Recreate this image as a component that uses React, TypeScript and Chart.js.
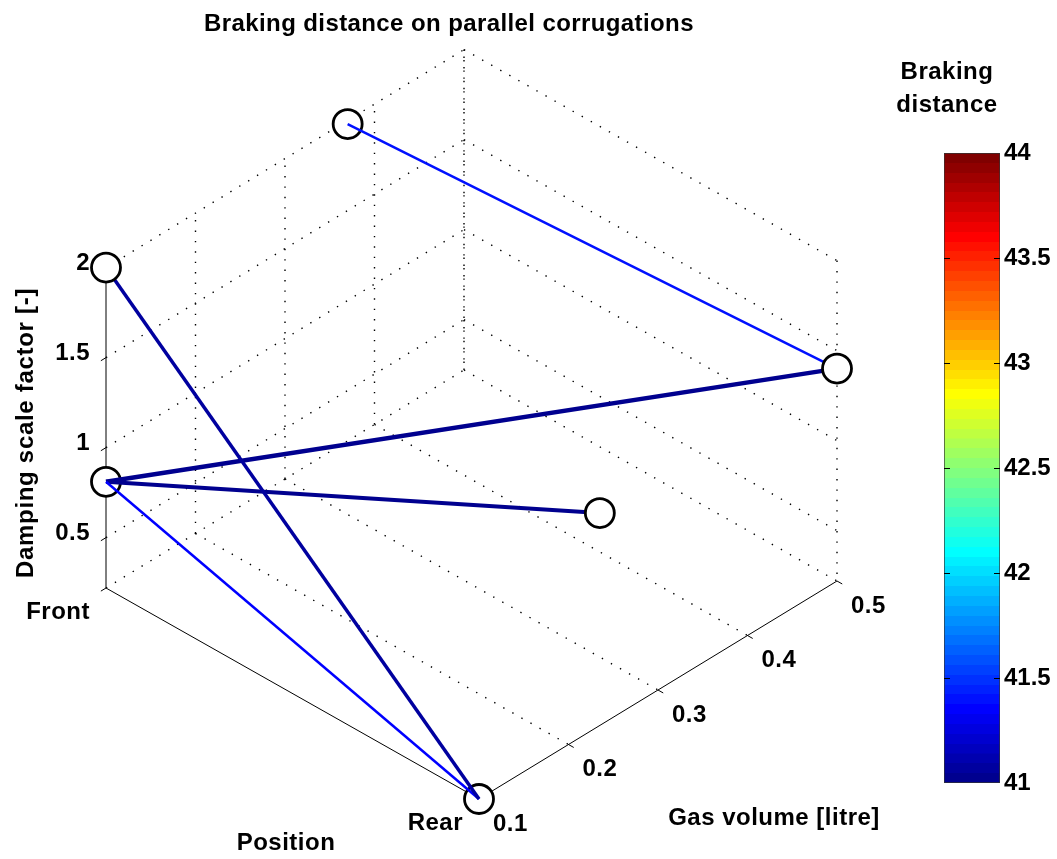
import { useEffect, useRef } from 'react';
import { Chart, registerables } from 'chart.js';

Chart.register(...registerables);

// ---- axes ----
const POSITION_LABELS = ['Front', 'Rear'];
const POSITION_VALUES = [0, 1];
const GAS_TICKS = [0.1, 0.2, 0.3, 0.4, 0.5];
const GAS_RANGE = [0.1, 0.5];
const DAMPING_TICKS = [0.5, 1, 1.5, 2];
const DAMPING_RANGE = [0.22, 2];
const BRAKING_TICKS = [41, 41.5, 42, 42.5, 43, 43.5, 44];
const BRAKING_TICK_LABELS = ['41', '41.5', '42', '42.5', '43', '43.5', '44'];
const BRAKING_RANGE = [41, 44];

// ---- test configurations (position 0 = Front, 1 = Rear) ----
const configPosition = [0, 0, 1, 0, 1, 1];
const configGas = [0.1, 0.1, 0.1, 0.37, 0.5, 0.235];
const configDamping = [2, 0.81, 0.22, 1.98, 1.4, 1.4];
// markers painted under / over the connecting lines
const markersUnder = [1, 2, 3];
const markersOver = [0, 4, 5];

// ---- connections between configurations, coloured by braking distance ----
const linkFrom = [0, 1, 1, 1, 3];
const linkTo = [2, 2, 4, 5, 4];
const linkBraking = [41.06, 41.35, 41.01, 41.03, 41.42];
const linkWidth = [3.5, 2.5, 4.5, 4, 2.5];

// ---- page / view geometry ----
const W = 1057;
const H = 859;
const VIEW = {
  originX: 106, // canvas position of (Front, min gas, min damping)
  originY: 588,
  pos: [373, 211], // screen offset of the Front -> Rear edge
  gas: [358, -218], // screen offset of the gas-volume edge
  zPerUnit: 180, // screen pixels per unit of damping factor
};
const FONT = '"Liberation Sans", Arial, sans-serif';

// oblique 3-D -> 2-D view coordinates (y up)
function project(p: number, g: number, z: number) {
  const gn = (g - GAS_RANGE[0]) / (GAS_RANGE[1] - GAS_RANGE[0]);
  const zn = (z - DAMPING_RANGE[0]) * VIEW.zPerUnit;
  return {
    x: p * VIEW.pos[0] + gn * VIEW.gas[0],
    y: -(p * VIEW.pos[1] + gn * VIEW.gas[1]) + zn,
  };
}

// MATLAB-style 64-step jet colormap
function jet(i: number): [number, number, number] {
  const k = i + 1;
  const u = (j: number) => (j < 1 || j > 47 ? 0 : j <= 16 ? j / 16 : j <= 31 ? 1 : (48 - j) / 16);
  return [u(k - 24), u(k - 8), u(k + 8)].map((c) => Math.round(c * 255)) as [number, number, number];
}
function colorFor(v: number) {
  const t = (v - BRAKING_RANGE[0]) / (BRAKING_RANGE[1] - BRAKING_RANGE[0]);
  const idx = Math.max(0, Math.min(63, Math.floor(t * 64)));
  const [r, g, b] = jet(idx);
  return `rgb(${r},${g},${b})`;
}

function drawText(
  ctx: CanvasRenderingContext2D,
  s: string,
  x: number,
  y: number,
  align: CanvasTextAlign,
  baseline: CanvasTextBaseline,
  size = 24,
  spacing = 0.5,
  angle = 0,
) {
  ctx.save();
  ctx.font = `bold ${size}px ${FONT}`;
  (ctx as any).letterSpacing = `${spacing}px`;
  ctx.fillStyle = '#000';
  ctx.textAlign = align;
  ctx.textBaseline = baseline;
  ctx.translate(x, y);
  if (angle) ctx.rotate(angle);
  ctx.fillText(s, 0, 0);
  ctx.restore();
}

const box3dPlugin = {
  id: 'box3d',
  beforeDatasetsDraw(chart: any) {
    const ctx: CanvasRenderingContext2D = chart.ctx;
    const xs = chart.scales.x;
    const ys = chart.scales.y;
    const P = (p: number, g: number, z: number): [number, number] => {
      const v = project(p, g, z);
      return [xs.getPixelForValue(v.x), ys.getPixelForValue(v.y)];
    };
    const seg = (a: number[], b: number[]) => {
      ctx.beginPath();
      ctx.moveTo(a[0], a[1]);
      ctx.lineTo(b[0], b[1]);
      ctx.stroke();
    };
    const [g0, g1] = GAS_RANGE;
    const [z0, z1] = DAMPING_RANGE;
    const [p0, p1] = [POSITION_VALUES[0], POSITION_VALUES[POSITION_VALUES.length - 1]];

    ctx.save();
    // dotted grid on the three back planes
    ctx.strokeStyle = '#000';
    ctx.lineWidth = 1.4;
    ctx.setLineDash([1.4, 9]);
    DAMPING_TICKS.forEach((z) => {
      seg(P(p0, g0, z), P(p0, g1, z)); // side wall
      seg(P(p0, g1, z), P(p1, g1, z)); // back wall
    });
    GAS_TICKS.slice(1).forEach((g) => {
      seg(P(p0, g, z0), P(p0, g, z1)); // side wall verticals
      seg(P(p0, g, z0), P(p1, g, z0)); // floor
    });
    seg(P(p0, g0, z0), P(p0, g1, z0));
    POSITION_VALUES.forEach((p) => seg(P(p, g1, z1), P(p, g1, z0)));

    // solid axes
    ctx.setLineDash([]);
    ctx.lineWidth = 1;
    seg(P(p0, g0, z0), P(p0, g0, z1));
    seg(P(p0, g0, z0), P(p1, g0, z0));
    seg(P(p1, g0, z0), P(p1, g1, z0));

    // tick marks
    const unit = (a: number[], b: number[]) => {
      const dx = b[0] - a[0];
      const dy = b[1] - a[1];
      const l = Math.hypot(dx, dy);
      return [dx / l, dy / l];
    };
    const gasDir = unit(P(p0, g0, z0), P(p0, g1, z0));
    const posDir = unit(P(p0, g0, z0), P(p1, g0, z0));
    const TL = 6;
    DAMPING_TICKS.forEach((z) => {
      const a = P(p0, g0, z);
      seg(a, [a[0] - gasDir[0] * TL, a[1] - gasDir[1] * TL]);
    });
    GAS_TICKS.forEach((g) => {
      const a = P(p1, g, z0);
      seg(a, [a[0] + posDir[0] * TL, a[1] + posDir[1] * TL]);
    });
    POSITION_VALUES.forEach((p) => {
      const a = P(p, g0, z0);
      seg(a, [a[0] - gasDir[0] * TL, a[1] - gasDir[1] * TL]);
    });
    ctx.restore();

    // tick labels
    DAMPING_TICKS.forEach((z) => {
      const a = P(p0, g0, z);
      drawText(ctx, String(z), a[0] - 16, a[1] - 4, 'right', 'middle');
    });
    GAS_TICKS.forEach((g) => {
      const a = P(p1, g, z0);
      drawText(ctx, String(g), a[0] + 14, a[1] + 25, 'left', 'middle');
    });
    POSITION_VALUES.forEach((p, i) => {
      const a = P(p, g0, z0);
      drawText(ctx, POSITION_LABELS[i], a[0] - 16, a[1] + 24, 'right', 'middle');
    });

    // titles
    drawText(ctx, 'Braking distance on parallel corrugations', 449, 31, 'center', 'alphabetic', 24, 0.4);
    drawText(ctx, 'Position', 286, 850, 'center', 'alphabetic');
    drawText(ctx, 'Gas volume [litre]', 774, 825, 'center', 'alphabetic');
    drawText(ctx, 'Damping scale factor [-]', 33, 433, 'center', 'alphabetic', 24, 0.7, -Math.PI / 2);
    drawText(ctx, 'Braking', 947, 79, 'center', 'alphabetic');
    drawText(ctx, 'distance', 947, 112, 'center', 'alphabetic');
  },
};

const colorbarTicksPlugin = {
  id: 'colorbarTicks',
  afterDatasetsDraw(chart: any) {
    const ctx: CanvasRenderingContext2D = chart.ctx;
    const { left, right } = chart.chartArea;
    const ys = chart.scales.y;
    ctx.save();
    ctx.strokeStyle = '#000';
    ctx.lineWidth = 1;
    BRAKING_TICKS.slice(1, -1).forEach((v) => {
      const y = Math.round(ys.getPixelForValue(v)) + 0.5;
      ctx.beginPath();
      ctx.moveTo(left, y);
      ctx.lineTo(left + 6, y);
      ctx.moveTo(right - 6, y);
      ctx.lineTo(right, y);
      ctx.stroke();
    });
    ctx.restore();
  },
};

export default function App() {
  const mainRef = useRef<HTMLCanvasElement>(null);
  const barRef = useRef<HTMLCanvasElement>(null);

  useEffect(() => {
    const pt = (i: number) => project(configPosition[i], configGas[i], configDamping[i]);
    const markerSet = (idx: number[], order: number) => ({
      data: idx.map(pt),
      showLine: false,
      pointStyle: 'circle',
      pointRadius: 14.5,
      pointBorderWidth: 2.8,
      pointBackgroundColor: '#ffffff',
      pointBorderColor: '#000000',
      order,
    });
    const lineSets = linkFrom.map((a, k) => ({
      data: [pt(a), pt(linkTo[k])],
      showLine: true,
      borderColor: colorFor(linkBraking[k]),
      borderWidth: linkWidth[k],
      pointRadius: 0,
      fill: false,
      order: 1,
    }));

    const main = new Chart(mainRef.current!, {
      type: 'scatter',
      data: { datasets: [markerSet(markersOver, 0), ...lineSets, markerSet(markersUnder, 2)] as any },
      options: {
        animation: false,
        responsive: false,
        events: [],
        layout: { padding: 0, autoPadding: false },
        plugins: { legend: { display: false }, tooltip: { enabled: false } },
        scales: {
          x: { type: 'linear', display: false, min: -VIEW.originX, max: W - VIEW.originX },
          y: { type: 'linear', display: false, min: -(H - VIEW.originY), max: VIEW.originY },
        },
      } as any,
      plugins: [box3dPlugin],
    });

    const bar = new Chart(barRef.current!, {
      type: 'bar',
      data: {
        labels: [''],
        datasets: [
          {
            data: [[BRAKING_RANGE[0], BRAKING_RANGE[1]]] as any,
            backgroundColor: (c: any) => {
              const area = c.chart.chartArea;
              if (!area) return '#000080';
              const grad = c.chart.ctx.createLinearGradient(0, area.bottom, 0, area.top);
              for (let i = 0; i < 64; i++) {
                const [r, g, b] = jet(i);
                const col = `rgb(${r},${g},${b})`;
                grad.addColorStop(i / 64, col);
                grad.addColorStop(Math.min(1, (i + 1) / 64 - 0.0001), col);
              }
              return grad;
            },
            borderColor: '#333333',
            borderWidth: 1,
            borderSkipped: false,
            barPercentage: 1,
            categoryPercentage: 1,
          },
        ],
      },
      options: {
        animation: false,
        responsive: false,
        events: [],
        layout: { padding: { left: 2, top: 20, bottom: 20, right: 0 }, autoPadding: false },
        plugins: { legend: { display: false }, tooltip: { enabled: false } },
        scales: {
          x: { display: false },
          y: {
            position: 'right',
            min: BRAKING_RANGE[0],
            max: BRAKING_RANGE[1],
            afterBuildTicks: (axis: any) => {
              axis.ticks = BRAKING_TICKS.map((v) => ({ value: v }));
            },
            afterFit: (axis: any) => {
              axis.width = 57;
            },
            ticks: {
              padding: 4,
              color: '#000',
              font: { family: FONT, size: 24, weight: 'bold' },
              callback: (_v: any, i: number) => BRAKING_TICK_LABELS[i],
            },
            grid: { display: false, drawTicks: false },
            border: { display: false },
          },
        },
      } as any,
      plugins: [colorbarTicksPlugin],
    });

    return () => {
      main.destroy();
      bar.destroy();
    };
  }, []);

  return (
    <div style={{ position: 'fixed', left: 0, top: 0, width: W, height: H, background: '#fff' }}>
      <canvas ref={mainRef} width={W} height={H} style={{ position: 'absolute', left: 0, top: 0 }} />
      <canvas ref={barRef} width={115} height={670} style={{ position: 'absolute', left: 942, top: 133 }} />
    </div>
  );
}
